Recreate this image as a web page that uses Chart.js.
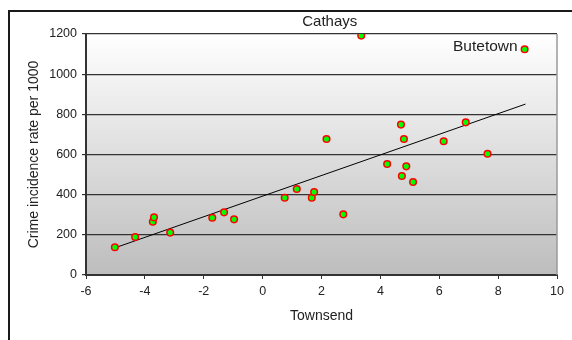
<!DOCTYPE html>
<html>
<head>
<meta charset="utf-8">
<script src="https://cdn.jsdelivr.net/npm/chart.js@4"></script>
<style>
  html, body { margin: 0; padding: 0; background: #fff; }
  #wrap { width: 572px; height: 340px; }
</style>
</head>
<body>
<div id="wrap"><canvas id="myChart" width="572" height="340"></canvas></div>
<script>
// Townsend score vs crime rate, one point per ward
const townsend = [-5.02, -4.33, -3.73, -3.69, -3.14, -1.71, -1.31, -0.97, 0.75, 1.16,
                  1.67, 1.75, 2.17, 2.74, 3.35, 4.23, 4.70, 4.73, 4.80, 4.88,
                  5.11, 6.15, 6.90, 7.64, 8.90];
const crimeRate = [138, 189, 265, 287, 211, 285, 312, 277, 385, 428,
                   385, 413, 677, 302, 1192, 553, 749, 493, 677, 541,
                   463, 666, 760, 604, 1124];

// fitted trend line at both ends
const trendX = [-5.02, 8.93];
const trendY = [135, 851];

// named wards
const labelNames = ['Cathays', 'Butetown'];
const labelIndex = [14, 24];

const xTicks = [-6, -4, -2, 0, 2, 4, 6, 8, 10];
const yTicks = [0, 200, 400, 600, 800, 1000, 1200];

const FONT = 'Arial, "Liberation Sans", sans-serif';

const bgPlugin = {
    id: 'bgPlugin',
    beforeDraw(chart) {
        const c = chart.ctx;
        const a = chart.chartArea;
        // outer frame
        c.save();
        c.strokeStyle = '#1a1a1a';
        c.lineWidth = 2;
        c.beginPath();
        c.moveTo(9, 340);
        c.lineTo(9, 11);
        c.lineTo(572, 11);
        c.stroke();
        // plot area gradient
        const g = c.createLinearGradient(0, a.top, 0, a.bottom);
        g.addColorStop(0, '#ffffff');
        g.addColorStop(1, '#bdbdbd');
        c.fillStyle = g;
        c.fillRect(a.left, a.top, a.right - a.left, a.bottom - a.top);
        c.restore();
    },
    beforeDatasetsDraw(chart) {
        const c = chart.ctx;
        const a = chart.chartArea;
        c.save();
        c.strokeStyle = '#9a9a9a';
        c.lineWidth = 1.5;
        c.beginPath();
        c.moveTo(a.right, a.top);
        c.lineTo(a.right, a.bottom);
        c.stroke();
        c.restore();
    },
    afterDatasetsDraw(chart) {
        const c = chart.ctx;
        const xs = chart.scales.x;
        const ys = chart.scales.y;
        c.save();
        c.fillStyle = '#222';
        c.textAlign = 'right';
        c.textBaseline = 'middle';
        labelNames.forEach((name, i) => {
            const k = labelIndex[i];
            const px = xs.getPixelForValue(townsend[k]);
            const py = ys.getPixelForValue(crimeRate[k]);
            if (i === 0) {
                c.font = '15px ' + FONT;
                c.fillText(name, px - 4, py - 14);
            } else {
                c.font = '15.5px ' + FONT;
                c.fillText(name, px - 7, py - 3);
            }
        });
        c.restore();
    }
};

const ctx = document.getElementById('myChart').getContext('2d');

const myChart = new Chart(ctx, {
    type: 'scatter',
    data: {
        datasets: [{
            label: 'Wards',
            data: townsend.map((x, i) => ({ x: x, y: crimeRate[i] })),
            backgroundColor: '#00ff00',
            borderColor: '#ff0000',
            borderWidth: 1.5,
            pointRadius: 3.3,
            order: 1
        }, {
            label: 'Trend',
            type: 'line',
            data: trendX.map((x, i) => ({ x: x, y: trendY[i] })),
            borderColor: '#000',
            borderWidth: 1,
            pointRadius: 0,
            fill: false,
            tension: 0,
            order: 2
        }]
    },
    options: {
        responsive: false,
        animation: false,
        layout: { padding: { left: 0, top: 34, right: 15, bottom: 0 } },
        plugins: {
            legend: { display: false },
            tooltip: { enabled: false }
        },
        scales: {
            x: {
                type: 'linear',
                min: -6,
                max: 10,
                afterBuildTicks: s => { s.ticks = xTicks.map(v => ({ value: v })); },
                afterFit: s => { s.height = 65; },
                grid: {
                    drawOnChartArea: false,
                    drawTicks: true,
                    tickLength: 4,
                    color: '#333',
                    lineWidth: 1
                },
                border: { color: '#333', width: 2 },
                ticks: {
                    color: '#222',
                    padding: 5,
                    maxRotation: 0,
                    callback: v => String(v),
                    font: { family: FONT, size: 12.5 }
                },
                title: {
                    display: true,
                    text: 'Townsend',
                    color: '#222',
                    font: { family: FONT, size: 14 },
                    padding: { top: 0, bottom: 15 }
                }
            },
            y: {
                type: 'linear',
                min: 0,
                max: 1200,
                afterBuildTicks: s => { s.ticks = yTicks.map(v => ({ value: v })); },
                afterFit: s => { s.width = 86; },
                grid: {
                    drawOnChartArea: true,
                    drawTicks: true,
                    tickLength: 4,
                    color: ctx2 => ctx2.type === 'tick' ? '#333' : '#9a9a9a',
                    lineWidth: 1.2
                },
                border: { color: '#333', width: 2 },
                ticks: {
                    color: '#222',
                    padding: 5,
                    callback: v => String(v),
                    font: { family: FONT, size: 12.5 }
                },
                title: {
                    display: true,
                    text: 'Crime incidence rate per 1000',
                    color: '#222',
                    font: { family: FONT, size: 14 },
                    padding: { top: 26, bottom: 0 }
                }
            }
        }
    },
    plugins: [bgPlugin]
});
</script>
</body>
</html>
